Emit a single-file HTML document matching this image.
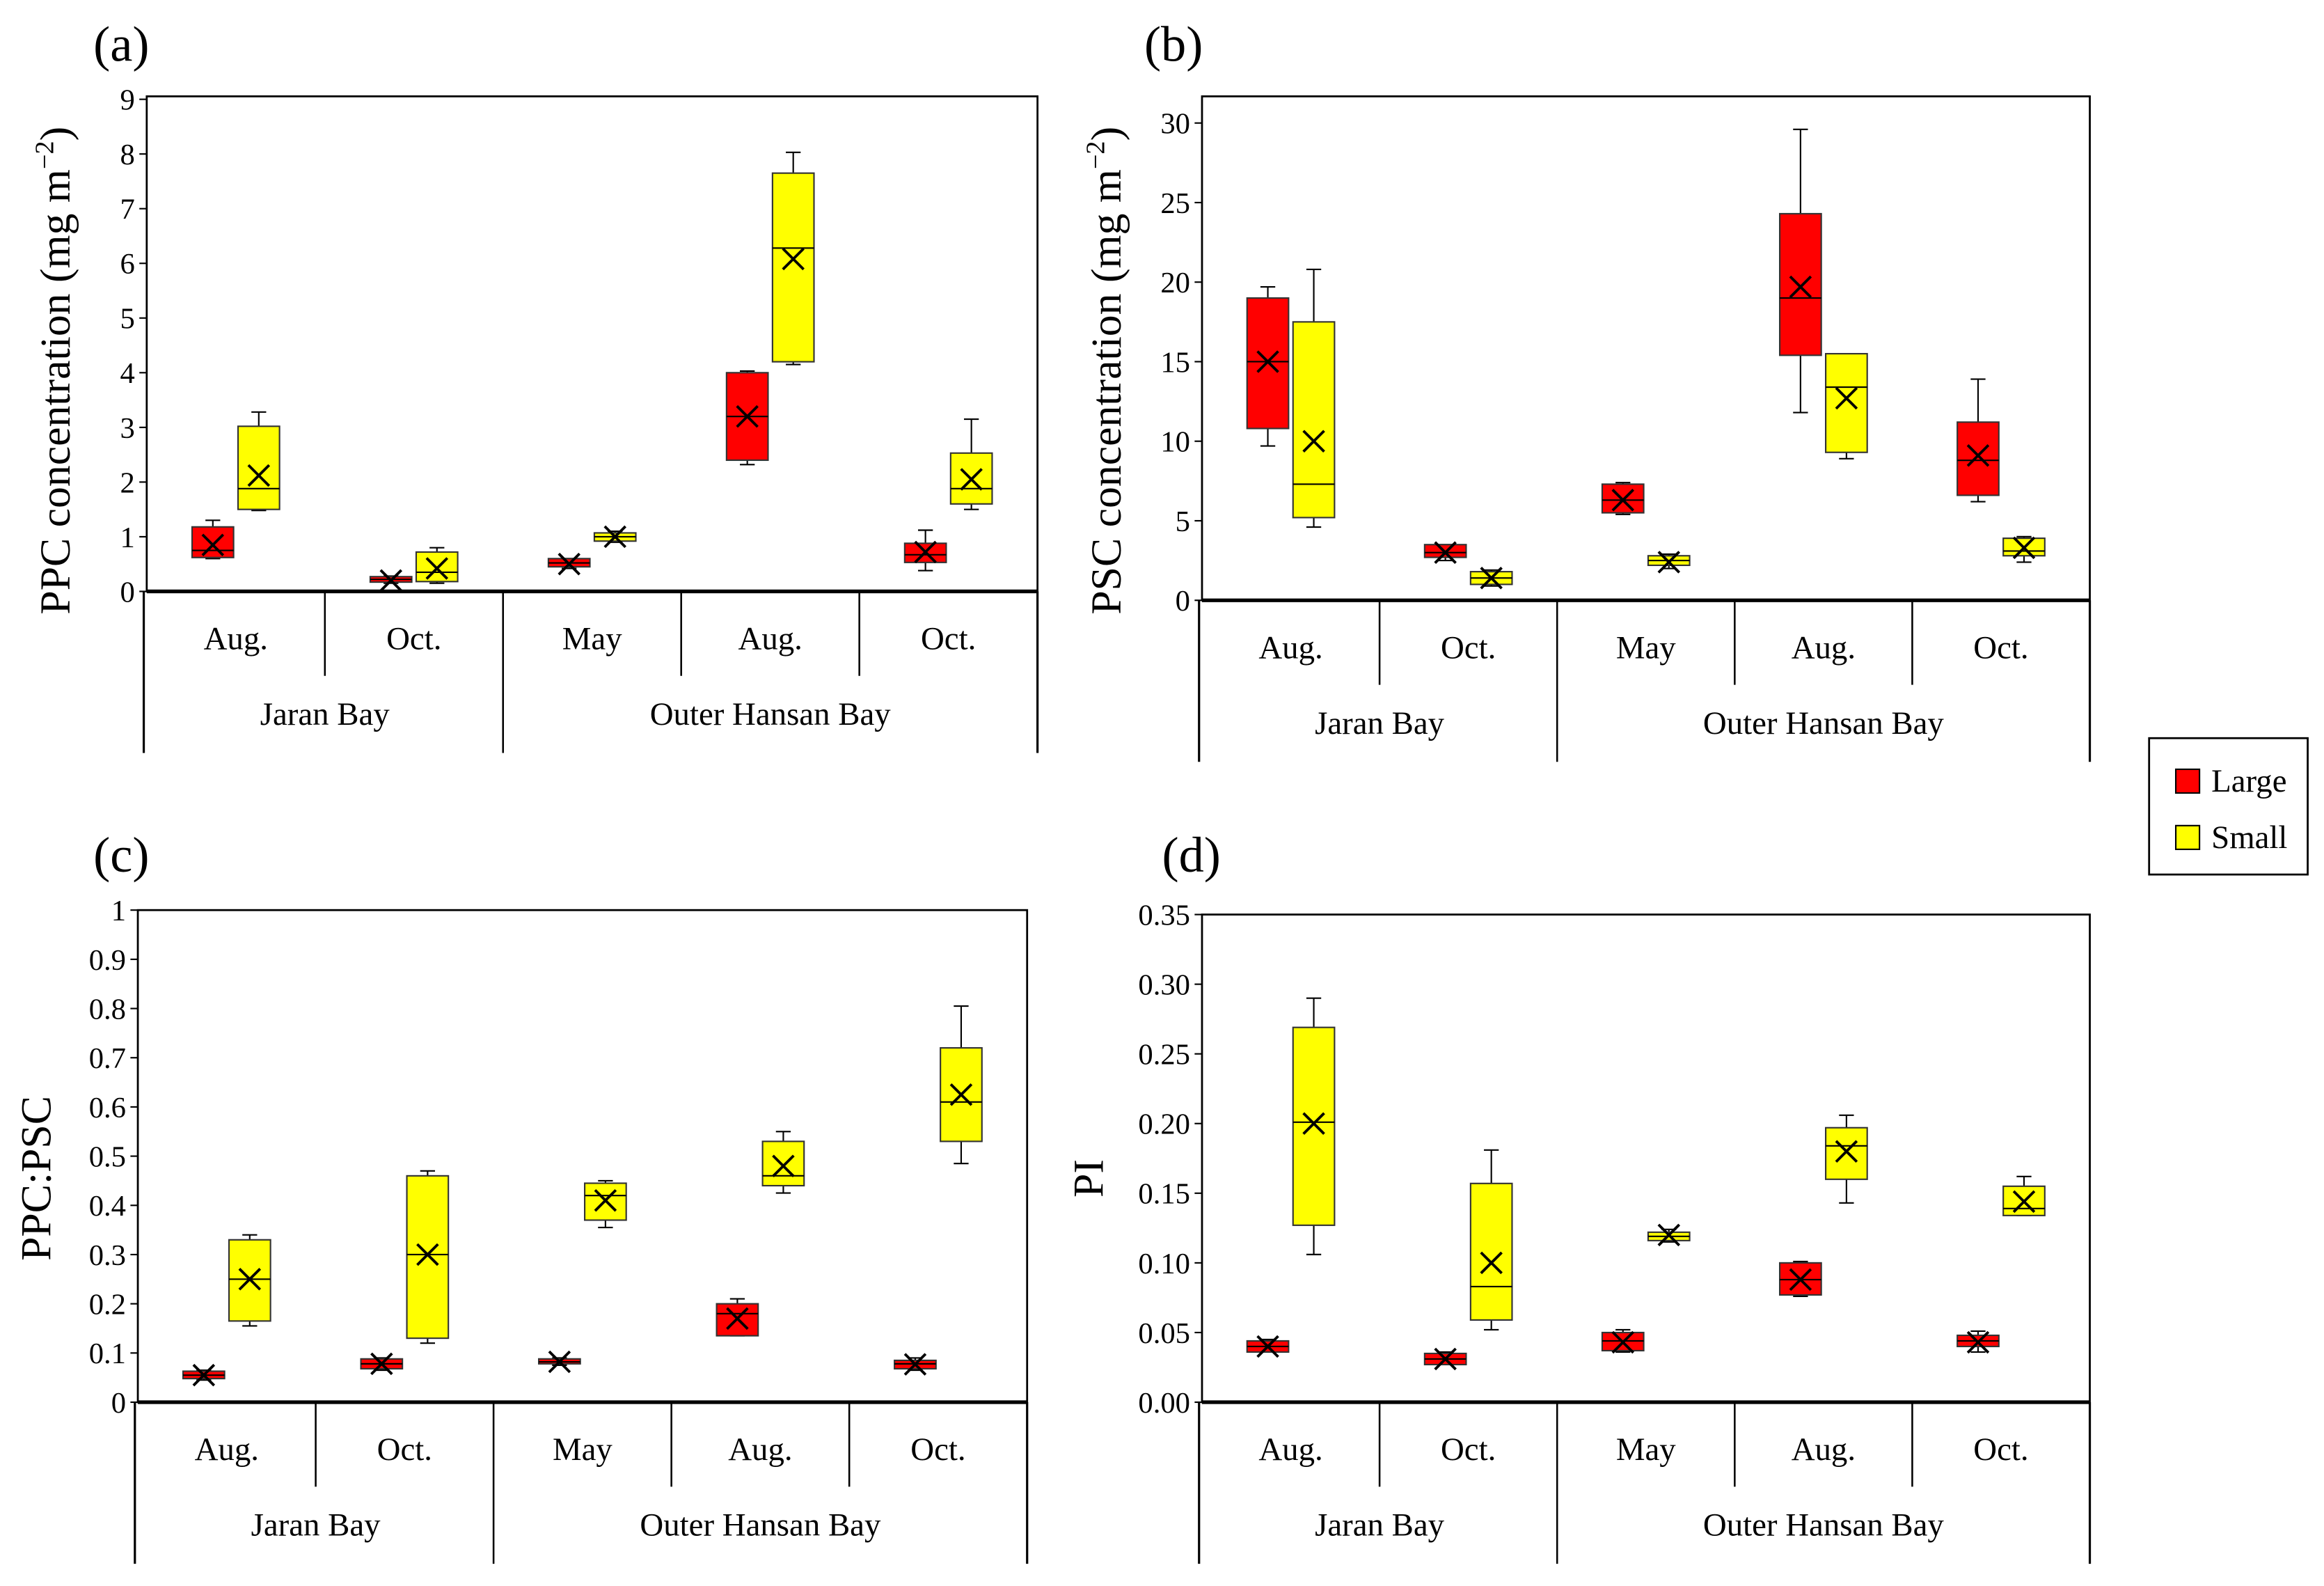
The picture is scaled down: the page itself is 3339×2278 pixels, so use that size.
<!DOCTYPE html>
<html><head><meta charset="utf-8"><style>
html,body{margin:0;padding:0;background:#fff;}
svg{display:block;font-family:"Liberation Serif","Times New Roman",serif;}
</style></head><body>
<svg id="fig" width="3339" height="2278" viewBox="0 0 1568 1070" preserveAspectRatio="none" xmlns="http://www.w3.org/2000/svg"></svg>
<script>
const months = ["Aug.","Oct.","May","Aug.","Oct."];
const groups = ["Jaran Bay","Outer Hansan Bay"];
// [whiskerLow, q1, median, q3, whiskerHigh, mean]
const aLarge = [[0.6,0.62,0.75,1.18,1.3,0.85],[0.15,0.17,0.22,0.27,0.28,0.2],[0.42,0.45,0.52,0.6,0.6,0.5],[2.32,2.4,3.2,4.0,4.03,3.2],[0.38,0.53,0.67,0.88,1.12,0.72]];
const aSmall = [[1.48,1.5,1.88,3.02,3.28,2.12],[0.15,0.18,0.35,0.72,0.8,0.42],[0.9,0.92,1.0,1.07,1.1,1.0],[4.15,4.2,6.28,7.65,8.03,6.08],[1.5,1.6,1.88,2.53,3.15,2.05]];
const bLarge = [[9.7,10.8,15,19.0,19.7,15],[2.5,2.7,3.0,3.5,3.5,3.0],[5.4,5.5,6.3,7.3,7.4,6.3],[11.8,15.4,19,24.3,29.6,19.7],[6.2,6.6,8.8,11.2,13.9,9.1]];
const bSmall = [[4.6,5.2,7.3,17.5,20.8,10],[0.9,1.0,1.4,1.8,1.9,1.4],[2.0,2.2,2.5,2.8,2.9,2.4],[8.9,9.3,13.4,15.5,15.5,12.7],[2.4,2.8,3.1,3.9,4.0,3.3]];
const cLarge = [[0.045,0.048,0.055,0.063,0.065,0.055],[0.065,0.068,0.078,0.088,0.09,0.078],[0.075,0.078,0.082,0.088,0.09,0.082],[0.135,0.135,0.18,0.2,0.21,0.17],[0.065,0.068,0.078,0.085,0.09,0.077]];
const cSmall = [[0.155,0.165,0.25,0.33,0.34,0.25],[0.12,0.13,0.3,0.46,0.47,0.3],[0.355,0.37,0.42,0.445,0.45,0.41],[0.425,0.44,0.46,0.53,0.55,0.48],[0.485,0.53,0.61,0.72,0.805,0.625]];
const dLarge = [[0.036,0.036,0.04,0.044,0.045,0.04],[0.027,0.027,0.031,0.035,0.036,0.031],[0.036,0.037,0.044,0.05,0.052,0.043],[0.076,0.077,0.088,0.1,0.101,0.088],[0.036,0.04,0.044,0.048,0.051,0.043]];
const dSmall = [[0.106,0.127,0.201,0.269,0.29,0.2],[0.052,0.059,0.083,0.157,0.181,0.1],[0.115,0.116,0.119,0.122,0.124,0.12],[0.143,0.16,0.184,0.197,0.206,0.18],[0.134,0.134,0.139,0.155,0.162,0.144]];
const aTicks = ["0","1","2","3","4","5","6","7","8","9"];
const bTicks = ["0","5","10","15","20","25","30"];
const cTicks = ["0","0.1","0.2","0.3","0.4","0.5","0.6","0.7","0.8","0.9","1"];
const dTicks = ["0.00","0.05","0.10","0.15","0.20","0.25","0.30","0.35"];

const NS="http://www.w3.org/2000/svg";
const svg=document.getElementById('fig');
function mk(tag,attrs,parent){const e=document.createElementNS(NS,tag);for(const k in attrs)e.setAttribute(k,attrs[k]);(parent||svg).appendChild(e);return e;}

function panel(cfg){
  const g=mk('g',{});
  
  
  const {x0,x1,yTop,y0,vmax,catBottom}=cfg;
  const ys=v=>y0-(v/vmax)*(y0-cfg.yTopVal);
  const fr=mk('rect',{x:x0,y:yTop,width:x1-x0,height:y0-yTop,fill:'none',stroke:'#000','stroke-width':1.3},g);
  
  
  cfg.ticks.forEach((t,i)=>{
    const v=i*cfg.step, y=ys(v);
    mk('line',{x1:x0-5,x2:x0,y1:y,y2:y,stroke:'#000','stroke-width':1},g);
    const tx=mk('text',{x:x0-8,y:y+7,'text-anchor':'end','font-size':20},g);
    tx.textContent=t;
    
    
  });
  const cw=(x1-x0)/5;
  mk('line',{x1:x0,x2:x1,y1:y0,y2:y0,stroke:'#000','stroke-width':2.5},g);
  mk('line',{x1:x0-2,x2:x0-2,y1:y0,y2:catBottom,stroke:'#000','stroke-width':1.5},g);
  mk('line',{x1:x1,x2:x1,y1:y0,y2:catBottom,stroke:'#000','stroke-width':1.5},g);
  for(let i=1;i<5;i++){
    const xx=x0+cw*i;
    mk('line',{x1:xx,x2:xx,y1:y0,y2:(i===2?catBottom:y0+57),stroke:'#000','stroke-width':1.2},g);
  }
  months.forEach((m,i)=>{
    const t=mk('text',{x:x0+cw*(i+0.5),y:y0+39,'text-anchor':'middle','font-size':22},g);
    t.textContent=m;
    
    
  });
  [[0,2],[2,5]].forEach((r,i)=>{
    const t=mk('text',{x:x0+cw*(r[0]+r[1])/2,y:y0+90,'text-anchor':'middle','font-size':22},g);
    t.textContent=groups[i];
    
    
  });
  const bw=28;
  [[cfg.large,'#ff0000',-15.5,'large'],[cfg.small,'#ffff00',15.5,'small']].forEach(([ser,col,off,nm])=>{
    ser.forEach((d,i)=>{
      const cx=x0+cw*(i+0.5)+off;
      const bg=mk('g',{},g);
      
      
      const [wl,q1,md,q3,wh,mn]=d;
      mk('line',{x1:cx,x2:cx,y1:ys(wh),y2:ys(wl),stroke:'#000','stroke-width':1},bg);
      mk('line',{x1:cx-5,x2:cx+5,y1:ys(wh),y2:ys(wh),stroke:'#000','stroke-width':1},bg);
      mk('line',{x1:cx-5,x2:cx+5,y1:ys(wl),y2:ys(wl),stroke:'#000','stroke-width':1},bg);
      mk('rect',{x:cx-bw/2,y:ys(q3),width:bw,height:Math.max(1,ys(q1)-ys(q3)),fill:col,stroke:'#333','stroke-width':1},bg);
      mk('line',{x1:cx-bw/2,x2:cx+bw/2,y1:ys(md),y2:ys(md),stroke:'#000','stroke-width':1},bg);
      const my=ys(mn),s=7;
      mk('path',{d:`M${cx-s} ${my-s}L${cx+s} ${my+s}M${cx-s} ${my+s}L${cx+s} ${my-s}`,stroke:'#000','stroke-width':1.8},bg);
    });
  });
  const yl=mk('text',{x:cfg.ylx,y:cfg.yly,'text-anchor':'middle','font-size':29,transform:`rotate(-90 ${cfg.ylx} ${cfg.yly})`},g);
  yl.innerHTML=cfg.ylabel;
  
  
  const pl=mk('text',{x:cfg.lx,y:cfg.ly,'font-size':34},g);
  pl.textContent=cfg.letter;
  
  
}
panel({id:'a',x0:99,x1:700,yTop:65,y0:399,yTopVal:67,vmax:9,step:1,ticks:aTicks,catBottom:508,large:aLarge,small:aSmall,
  ylx:47,yly:250,ylabel:'PPC concentration  (mg m<tspan dy="-11" font-size="18">−2</tspan><tspan dy="11">)</tspan>',lx:63,ly:41,letter:'(a)'});
panel({id:'b',x0:811,x1:1410,yTop:65,y0:405,yTopVal:83,vmax:30,step:5,ticks:bTicks,catBottom:514,large:bLarge,small:bSmall,
  ylx:756,yly:250,ylabel:'PSC concentration  (mg m<tspan dy="-11" font-size="18">−2</tspan><tspan dy="11">)</tspan>',lx:772,ly:41,letter:'(b)'});
panel({id:'c',x0:93,x1:693,yTop:614,y0:946,yTopVal:614,vmax:1,step:0.1,ticks:cTicks,catBottom:1055,large:cLarge,small:cSmall,
  ylx:34,yly:795,ylabel:'PPC:PSC',lx:63,ly:588,letter:'(c)'});
panel({id:'d',x0:811,x1:1410,yTop:617,y0:946,yTopVal:617,vmax:0.35,step:0.05,ticks:dTicks,catBottom:1055,large:dLarge,small:dSmall,
  ylx:744,yly:795,ylabel:'PI',lx:784,ly:588,letter:'(d)'});
const lg=mk('g',{});


mk('rect',{x:1450,y:498,width:107,height:92,fill:'#fff',stroke:'#000','stroke-width':1.3},lg);
[['#ff0000','Large',519],['#ffff00','Small',557]].forEach(([c,t,y])=>{
  const e=mk('g',{},lg);
  
  
  mk('rect',{x:1468,y:y,width:16,height:16,fill:c,stroke:'#000','stroke-width':1},e);
  const tx=mk('text',{x:1492,y:y+15,'font-size':22},e);
  tx.textContent=t;
});
</script>
</body></html>
